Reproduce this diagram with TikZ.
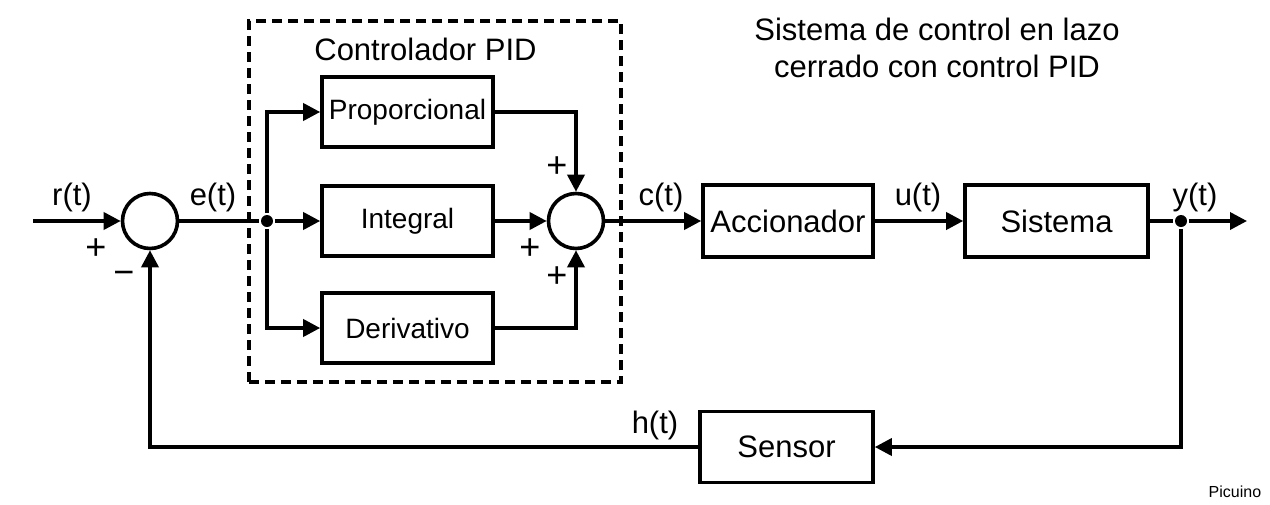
\documentclass[tikz,border=0pt]{standalone}
\usepackage{fontspec}
\setmainfont{Liberation Sans}
\usetikzlibrary{arrows.meta}
\begin{document}
\begin{tikzpicture}[x=1pt,y=-1pt,
  line width=3.6pt,
  arr/.style={-{Triangle[length=17pt,width=17pt]}},
  blk/.style={draw, rectangle, inner sep=0pt, font=\fontsize{31}{37}\selectfont},
  pidblk/.style={draw, rectangle, inner sep=0pt, minimum width=171pt, minimum height=70pt, font=\fontsize{28}{33}\selectfont},
  sumc/.style={draw, circle, minimum size=55pt, inner sep=0pt},
  lbl/.style={font=\fontsize{31}{37}\selectfont, anchor=base, inner sep=0pt},
  sgn/.style={font=\fontsize{36}{40}\selectfont, inner sep=0pt},
  dot/.style={circle, fill, minimum size=12pt, inner sep=0pt}]
\useasboundingbox (0,0) rectangle (1270,504);
\fill[white] (0,0) rectangle (1270,504);

\node[draw, dash pattern=on 10pt off 6pt, line width=3.2pt, minimum width=372pt, minimum height=361pt, inner sep=0pt] (pid) at (435,201.5) {};

\coordinate (in) at (33,221);
\node[sumc] (s1) at (150,221) {};
\node[dot] (b1) at (267,221) {};
\node[pidblk] (P) at (407.5,112) {Proporcional};
\node[pidblk] (I) at (407.5,221) {Integral};
\node[pidblk] (D) at (407.5,328) {Derivativo};
\node[sumc] (s2) at (576,221) {};
\node[blk, minimum width=170pt, minimum height=72pt] (A) at (788,221) {Accionador};
\node[blk, minimum width=183pt, minimum height=72pt] (S) at (1056.5,221) {Sistema};
\node[dot] (b2) at (1181,221) {};
\coordinate (out) at (1247,221);
\node[blk, minimum width=173pt, minimum height=71pt] (Se) at (786.5,447) {Sensor};

\draw[arr] (in) -- (s1.west);
\draw (s1.east) -- (b1);
\draw[arr] (b1) -- (I.west);
\draw[arr] (b1) |- (P.west);
\draw[arr] (b1) |- (D.west);
\draw[arr] (P.east) -| (s2.north);
\draw[arr] (I.east) -- (s2.west);
\draw[arr] (D.east) -| (s2.south);
\draw[arr] (s2.east) -- (A.west);
\draw[arr] (A.east) -- (S.west);
\draw (S.east) -- (b2);
\draw[arr] (b2) -- (out);
\draw[arr] (b2) |- (Se.east);
\draw[arr] (Se.west) -| (s1.south);

\node[lbl] (lr) at (72,205) {r(t)};
\node[lbl] (le) at (213,205) {e(t)};
\node[lbl] (lc) at (661,205) {c(t)};
\node[lbl] (lu) at (918,205) {u(t)};
\node[lbl] (ly) at (1195,205) {y(t)};
\node[lbl] (lh) at (655,433) {h(t)};

\node[sgn] (p1) at (96,249) {+};
\node[sgn] (m1) at (124,278) {−};
\node[sgn] (p2) at (557,167) {+};
\node[sgn] (p3) at (530,249) {+};
\node[sgn] (p4) at (557,277) {+};

\node[lbl] (ctl) at (425.5,60) {Controlador PID};
\node[lbl] (t1) at (937,40) {Sistema de control en lazo};
\node[lbl] (t2) at (937,77) {cerrado con control PID};
\node[font=\fontsize{16}{19}\selectfont, anchor=base east, inner sep=0pt] (wm) at (1263,497) {Picuino};
\end{tikzpicture}
\end{document}
